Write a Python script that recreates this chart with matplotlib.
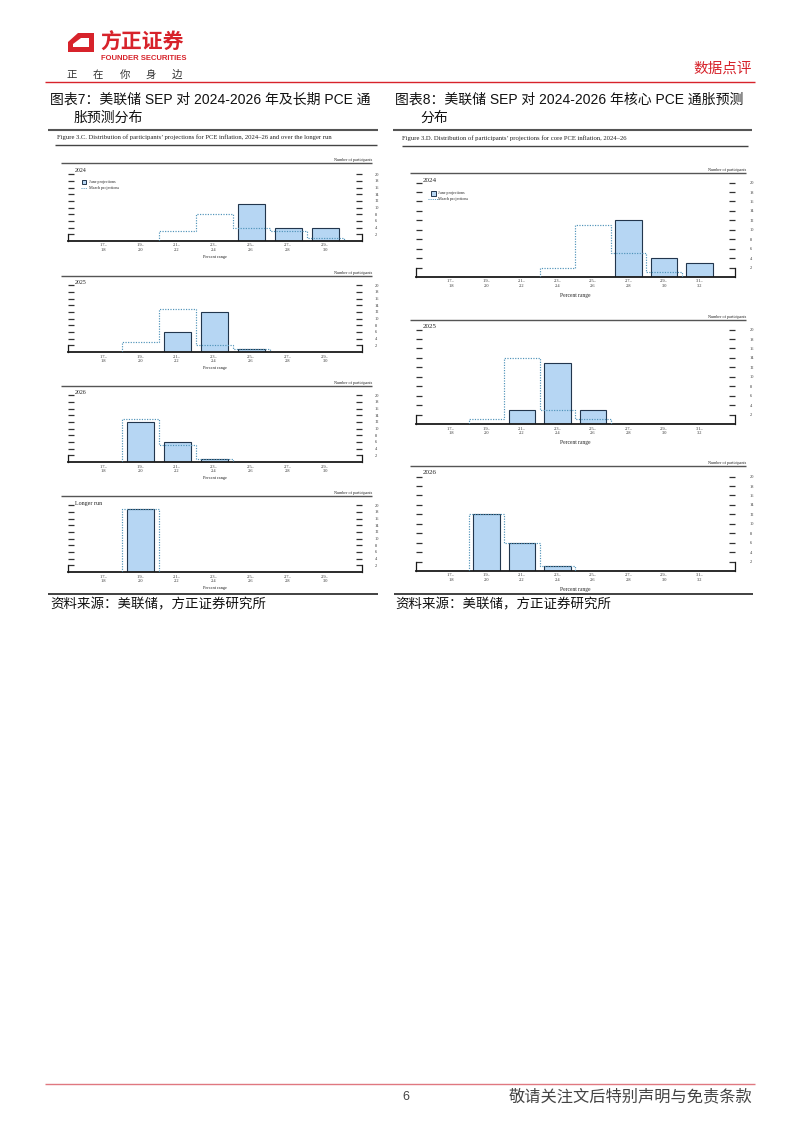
import matplotlib
matplotlib.use("Agg")
import matplotlib.pyplot as plt
import numpy as np
from matplotlib.patches import Polygon, Rectangle

# ---------------- data ----------------
pce_bins = ["1.7–\n1.8", "1.9–\n2.0", "2.1–\n2.2", "2.3–\n2.4", "2.5–\n2.6", "2.7–\n2.8", "2.9–\n3.0"]
core_bins = ["1.7–\n1.8", "1.9–\n2.0", "2.1–\n2.2", "2.3–\n2.4", "2.5–\n2.6", "2.7–\n2.8", "2.9–\n3.0", "3.1–\n3.2"]

pce_2024_june = [0, 0, 0, 0, 11, 4, 4]
pce_2024_march = [0, 0, 3, 8, 4, 3, 1]
pce_2025_june = [0, 0, 6, 12, 1, 0, 0]
pce_2025_march = [0, 3, 13, 2, 1, 0, 0]
pce_2026_june = [0, 12, 6, 1, 0, 0, 0]
pce_2026_march = [0, 13, 5, 1, 0, 0, 0]
pce_lr_june = [0, 19, 0, 0, 0, 0, 0]
pce_lr_march = [0, 19, 0, 0, 0, 0, 0]

core_2024_june = [0, 0, 0, 0, 0, 12, 4, 3]
core_2024_march = [0, 0, 0, 2, 11, 5, 1, 0]
core_2025_june = [0, 0, 3, 13, 3, 0, 0, 0]
core_2025_march = [0, 1, 14, 3, 1, 0, 0, 0]
core_2026_june = [0, 12, 6, 1, 0, 0, 0, 0]
core_2026_march = [0, 12, 6, 1, 0, 0, 0, 0]

y_ticks = [2, 4, 6, 8, 10, 12, 14, 16, 18, 20]

# ---------------- style ----------------
W, H = 802, 1133
RED = "#d7232b"
BAR = "#b6d6f3"
EDGE = "#22364d"
DOT = "#4f93b9"
CJK = ["Liberation Sans", "Noto Sans CJK SC"]
SERIF = ["Liberation Serif", "DejaVu Serif"]

fig = plt.figure(figsize=(8.02, 11.33), dpi=100)
page = fig.add_axes([0, 0, 1, 1])
page.set_xlim(0, W)
page.set_ylim(H, 0)
page.axis("off")


def hline(y, x0, x1, color, lw):
    page.plot([x0, x1], [y, y], color=color, lw=lw, solid_capstyle="butt")


# ---------------- header ----------------
page.add_patch(Polygon([(78, 32.5), (93.5, 32.5), (93.5, 52), (67.5, 52), (67.5, 41.5)],
                       closed=True, facecolor=RED, edgecolor="none"))
page.add_patch(Polygon([(80.5, 37.8), (88.8, 37.8), (88.8, 47), (72.8, 47), (72.8, 44)],
                       closed=True, facecolor="white", edgecolor="none"))
page.text(100, 42, "方正证券", fontsize=15, fontweight="bold", color=RED,
          family=["Noto Sans CJK SC"], ha="left", va="center")
page.text(101, 59, "FOUNDER SECURITIES", fontsize=5.5, fontweight="bold", color=RED,
          family=["Liberation Sans"], ha="left", va="center")
for i, ch in enumerate("正在你身边"):
    page.text(72 + i * 26.3, 75, ch, fontsize=7.5, color="#333333",
              family=["Noto Sans CJK SC"], ha="center", va="center")
page.text(752, 69, "数据点评", fontsize=10.5, color=RED, family=["Noto Sans CJK SC"],
          ha="right", va="center")
hline(82, 45, 755, RED, 1.0)

# ---------------- titles ----------------
page.text(50, 100, "图表7：美联储 SEP 对 2024-2026 年及长期 PCE 通", fontsize=10, color="#111111",
          family=CJK, ha="left", va="center")
page.text(74, 118, "胀预测分布", fontsize=10, color="#111111", family=CJK, ha="left", va="center")
page.text(395, 100, "图表8：美联储 SEP 对 2024-2026 年核心 PCE 通胀预测", fontsize=10, color="#111111",
          family=CJK, ha="left", va="center")
page.text(420, 118, "分布", fontsize=10, color="#111111", family=CJK, ha="left", va="center")
hline(130, 48, 378, "#555555", 1.5)
hline(130, 393, 752, "#555555", 1.5)

# captions of the embedded figures
page.text(57, 137.5, "Figure 3.C. Distribution of participants’ projections for PCE inflation, 2024–26 and over the longer run",
          fontsize=4.8, family=SERIF, color="#222222", ha="left", va="center")
hline(145, 55, 377, "#444444", 1.0)
page.text(402, 138.5, "Figure 3.D. Distribution of participants’ projections for core PCE inflation, 2024–26",
          fontsize=4.8, family=SERIF, color="#222222", ha="left", va="center")
hline(145.5, 402, 748, "#444444", 1.0)


# ---------------- panels ----------------
def panel(x0, x1, base, ppu, xlim, labels, june, march, year, top_y, line_x0, line_x1,
          bw, ypad, fs_year, fs_xlab, xlab_off, legend=None):
    ax = fig.add_axes([x0 / W, 1 - base / H, (x1 - x0) / W, 21 * ppu / H])
    ax.patch.set_alpha(0)
    n = len(labels)
    idx = np.arange(n)
    june = np.asarray(june)
    march = np.asarray(march)
    ax.bar(idx, june, width=bw, color=BAR, edgecolor=EDGE, linewidth=0.8, zorder=2)
    nz = np.nonzero(march)[0]
    edges = np.arange(n + 1) - 0.5
    ax.stairs(march[nz[0]:nz[-1] + 1], edges[nz[0]:nz[-1] + 2], baseline=0, fill=False,
              linestyle=(0, (1, 1.2)), color=DOT, lw=0.85, zorder=3)
    ax.set_xlim(*xlim)
    ax.set_ylim(0, 21)
    ax.spines["top"].set_visible(False)
    ax.spines["bottom"].set_linewidth(1.3)
    ax.spines["bottom"].set_color("#1a1a1a")
    for s in ("left", "right"):
        ax.spines[s].set_bounds(0, 2)
        ax.spines[s].set_linewidth(0.9)
        ax.spines[s].set_color("#1a1a1a")
    ax.set_yticks(y_ticks)
    ax.set_yticklabels([str(v) for v in y_ticks])
    ax.tick_params(axis="y", direction="in", length=4, width=0.9, color="#333333",
                   left=True, right=True, labelleft=False, labelright=True,
                   labelsize=3.2, pad=ypad, labelcolor="#333333")
    for t in ax.get_yticklabels():
        t.set_family(SERIF)
    ax.set_xticks(idx)
    ax.set_xticklabels(labels, fontsize=3.2, family=SERIF, color="#333333", linespacing=1.15)
    ax.tick_params(axis="x", length=0, pad=1.8)
    ax.set_xlabel("Percent range", fontsize=fs_xlab, family=SERIF, color="#222222")
    ax.xaxis.set_label_coords(0.5, -xlab_off / (21 * ppu))
    # page-level decorations of the panel
    hline(top_y, line_x0, line_x1, "#555555", 1.0)
    page.text(line_x1, top_y - 3.2, "Number of participants", fontsize=3.0, family=SERIF,
              color="#222222", ha="right", va="center")
    page.text(x0 + 7, top_y + 7, year, fontsize=fs_year, family=SERIF, color="#222222",
              ha="left", va="center")
    if legend is not None:
        lx, ly, sq, dl = legend
        page.add_patch(Rectangle((lx - sq / 2, ly - sq / 2), sq, sq, facecolor=BAR,
                                 edgecolor=EDGE, lw=0.7))
        page.text(lx + sq / 2 + 3, ly, "June projections", fontsize=3.0, family=SERIF,
                  color="#222222", ha="left", va="center")
        page.plot([lx - dl / 2, lx + dl / 2], [ly + sq + 1, ly + sq + 1], color=DOT, lw=0.7,
                  linestyle=(0, (1, 1.2)))
        page.text(lx + sq / 2 + 3, ly + sq + 1, "March projections", fontsize=3.0, family=SERIF,
                  color="#222222", ha="left", va="center")
    return ax


L_PPU = 3.34
R_PPU = 4.72
L_X = (68, 362)
R_X = (415.5, 735)
L_LIM = (-0.95, 7.0)
R_LIM = (-1.0, 8.0)

panel(*L_X, 241, L_PPU, L_LIM, pce_bins, pce_2024_june, pce_2024_march, "2024", 163, 61, 372,
      0.73, 9.4, 4.3, 3.2, 14, legend=(84, 182, 4.5, 6))
panel(*L_X, 352, L_PPU, L_LIM, pce_bins, pce_2025_june, pce_2025_march, "2025", 276, 61, 372,
      0.73, 9.4, 4.3, 3.2, 14)
panel(*L_X, 462, L_PPU, L_LIM, pce_bins, pce_2026_june, pce_2026_march, "2026", 386, 61, 372,
      0.73, 9.4, 4.3, 3.2, 14)
panel(*L_X, 572, L_PPU, L_LIM, pce_bins, pce_lr_june, pce_lr_march, "Longer run", 496, 61, 372,
      0.73, 9.4, 4.3, 3.2, 14)

panel(*R_X, 277, R_PPU, R_LIM, core_bins, core_2024_june, core_2024_march, "2024", 173, 410, 746,
      0.75, 10.8, 5.0, 4.0, 16, legend=(433, 193, 5, 11))
panel(*R_X, 424, R_PPU, R_LIM, core_bins, core_2025_june, core_2025_march, "2025", 320, 410, 746,
      0.75, 10.8, 5.0, 4.0, 16)
panel(*R_X, 571, R_PPU, R_LIM, core_bins, core_2026_june, core_2026_march, "2026", 466, 410, 746,
      0.75, 10.8, 5.0, 4.0, 16)

# ---------------- sources ----------------
hline(593.5, 48, 378, "#333333", 1.3)
hline(594, 394, 753, "#333333", 1.3)
page.text(50, 604, "资料来源：美联储，方正证券研究所", fontsize=9.7, color="#111111",
          family=["Noto Sans CJK SC"], ha="left", va="center", style="italic")
page.text(395, 604, "资料来源：美联储，方正证券研究所", fontsize=9.7, color="#111111",
          family=["Noto Sans CJK SC"], ha="left", va="center", style="italic")

# ---------------- footer ----------------
hline(1084, 45, 755, "#e07880", 1.0)
page.text(406, 1097, "6", fontsize=9, color="#444444", family=["Liberation Sans"],
          ha="center", va="center")
page.text(752, 1097, "敬请关注文后特别声明与免责条款", fontsize=11.7, color="#444444",
          family=["Noto Sans CJK SC"], ha="right", va="center")

fig.savefig("out.png", dpi=100, facecolor="white")
